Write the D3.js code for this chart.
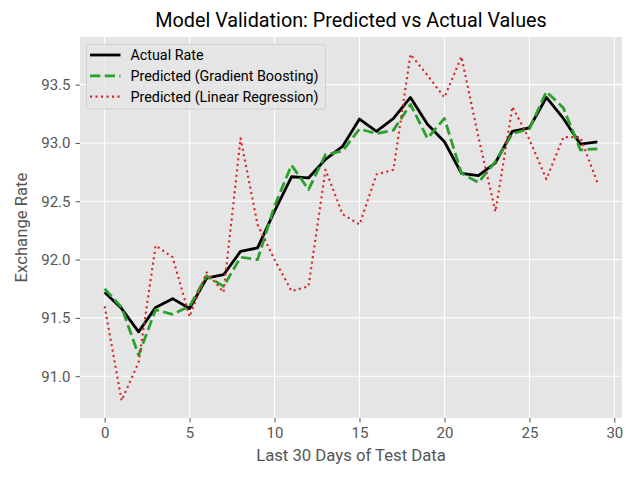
<!DOCTYPE html>
<html>
<head>
<meta charset="utf-8">
<script src="https://cdn.jsdelivr.net/npm/d3@7"></script>
<style>
  body { margin: 0; background: #fff; }
  svg text { font-family: Roboto, "Open Sans", "DejaVu Sans", sans-serif; }
</style>
</head>
<body>
<svg id="chart" width="640" height="480"></svg>
<script>
// DATA
var days = d3.range(30);
var actual = [91.72, 91.58, 91.38, 91.59, 91.665, 91.58, 91.84, 91.87, 92.07, 92.10,
              92.415, 92.71, 92.70, 92.86, 92.97, 93.205, 93.10, 93.21, 93.39, 93.16,
              93.01, 92.74, 92.72, 92.83, 93.10, 93.13, 93.39, 93.21, 92.99, 93.01];
var gradBoost = [91.75, 91.59, 91.18, 91.57, 91.53, 91.60, 91.86, 91.77, 92.02, 92.00,
                 92.46, 92.81, 92.60, 92.90, 92.93, 93.12, 93.08, 93.11, 93.33, 93.04,
                 93.21, 92.74, 92.66, 92.84, 93.08, 93.12, 93.44, 93.30, 92.94, 92.95];
var linReg = [91.60, 90.79, 91.12, 92.12, 92.02, 91.51, 91.89, 91.72, 93.04, 92.30,
              92.00, 91.73, 91.77, 92.77, 92.39, 92.30, 92.73, 92.77, 93.76, 93.58,
              93.39, 93.74, 93.05, 92.41, 93.31, 93.03, 92.69, 93.05, 93.05, 92.66];
var xTicks = [0, 5, 10, 15, 20, 25, 30];
var yTicks = [91.0, 91.5, 92.0, 92.5, 93.0, 93.5];

var series = [
  {name: "Actual Rate", values: actual, color: "#000000", width: 2.8, dash: null},
  {name: "Predicted (Gradient Boosting)", values: gradBoost, color: "#2ca02c", width: 2.8, dash: "10.3,4.4"},
  {name: "Predicted (Linear Regression)", values: linReg, color: "#d62728", width: 2.1, dash: "2.1,3.4"}
];

// LAYOUT
var svg = d3.select("#chart");
var plotL = 80, plotR = 622, plotT = 37, plotB = 418;

var all = actual.concat(gradBoost, linReg);
var ymin = d3.min(all), ymax = d3.max(all);
var ypad = (ymax - ymin) * 0.05;

var x = d3.scaleLinear().domain([-1.45, 30.45]).range([plotL, plotR]);
var y = d3.scaleLinear().domain([ymin - ypad, ymax + ypad]).range([plotB, plotT]);

// background
svg.append("rect")
  .attr("x", plotL).attr("y", plotT)
  .attr("width", plotR - plotL).attr("height", plotB - plotT)
  .attr("fill", "#e5e5e5");

// grid
var grid = svg.append("g");
grid.selectAll(".vg").data(xTicks).enter().append("line")
  .attr("x1", function(d) { return x(d); }).attr("x2", function(d) { return x(d); })
  .attr("y1", plotT).attr("y2", plotB)
  .attr("stroke", "#fff").attr("stroke-width", 1.1);
grid.selectAll(".hg").data(yTicks).enter().append("line")
  .attr("x1", plotL).attr("x2", plotR)
  .attr("y1", function(d) { return y(d); }).attr("y2", function(d) { return y(d); })
  .attr("stroke", "#fff").attr("stroke-width", 1.1);

// axes
var xAxis = svg.append("g")
  .attr("transform", "translate(0," + plotB + ")")
  .call(d3.axisBottom(x).tickValues(xTicks).tickSize(4.5).tickPadding(5).tickFormat(d3.format("d")));
var yAxis = svg.append("g")
  .attr("transform", "translate(" + plotL + ",0)")
  .call(d3.axisLeft(y).tickValues(yTicks).tickSize(4.5).tickPadding(5).tickFormat(d3.format(".1f")));
[xAxis, yAxis].forEach(function(a) {
  a.select(".domain").remove();
  a.selectAll(".tick line").attr("stroke", "#555");
  a.selectAll(".tick text").attr("fill", "#555").style("font-size", "15px");
});

// lines
var line = d3.line()
  .x(function(d, i) { return x(days[i]); })
  .y(function(d) { return y(d); });

svg.append("g").selectAll("path").data(series).enter().append("path")
  .attr("d", function(s) { return line(s.values); })
  .attr("fill", "none")
  .attr("stroke", function(s) { return s.color; })
  .attr("stroke-width", function(s) { return s.width; })
  .attr("stroke-dasharray", function(s) { return s.dash; })
  .attr("stroke-linejoin", "round");

// labels
svg.append("text")
  .attr("x", (plotL + plotR) / 2).attr("y", 27)
  .attr("text-anchor", "middle")
  .style("font-size", "19.8px").attr("fill", "#000")
  .text("Model Validation: Predicted vs Actual Values");
svg.append("text")
  .attr("x", (plotL + plotR) / 2).attr("y", 461)
  .attr("text-anchor", "middle")
  .style("font-size", "16.7px").attr("fill", "#555")
  .text("Last 30 Days of Test Data");
svg.append("text")
  .attr("transform", "translate(27," + ((plotT + plotB) / 2) + ") rotate(-90)")
  .attr("text-anchor", "middle")
  .style("font-size", "16.7px").attr("fill", "#555")
  .text("Exchange Rate");

// legend
var legend = svg.append("g").attr("transform", "translate(86.5,44.5)");
legend.append("rect")
  .attr("width", 239).attr("height", 64.5).attr("rx", 3)
  .attr("fill", "#e5e5e5").attr("fill-opacity", 0.8)
  .attr("stroke", "#d0d0d0").attr("stroke-width", 1);
var item = legend.selectAll(".item").data(series).enter().append("g")
  .attr("transform", function(d, i) { return "translate(0," + (10.5 + i * 20.8) + ")"; });
item.append("line")
  .attr("x1", 3.5).attr("x2", 34).attr("y1", 0).attr("y2", 0)
  .attr("stroke", function(s) { return s.color; })
  .attr("stroke-width", function(s) { return s.width; })
  .attr("stroke-dasharray", function(s) { return s.dash; });
item.append("text")
  .attr("x", 44).attr("y", 0).attr("dy", "0.35em")
  .style("font-size", "14.3px").attr("fill", "#000")
  .text(function(s) { return s.name; });
</script>
</body>
</html>
